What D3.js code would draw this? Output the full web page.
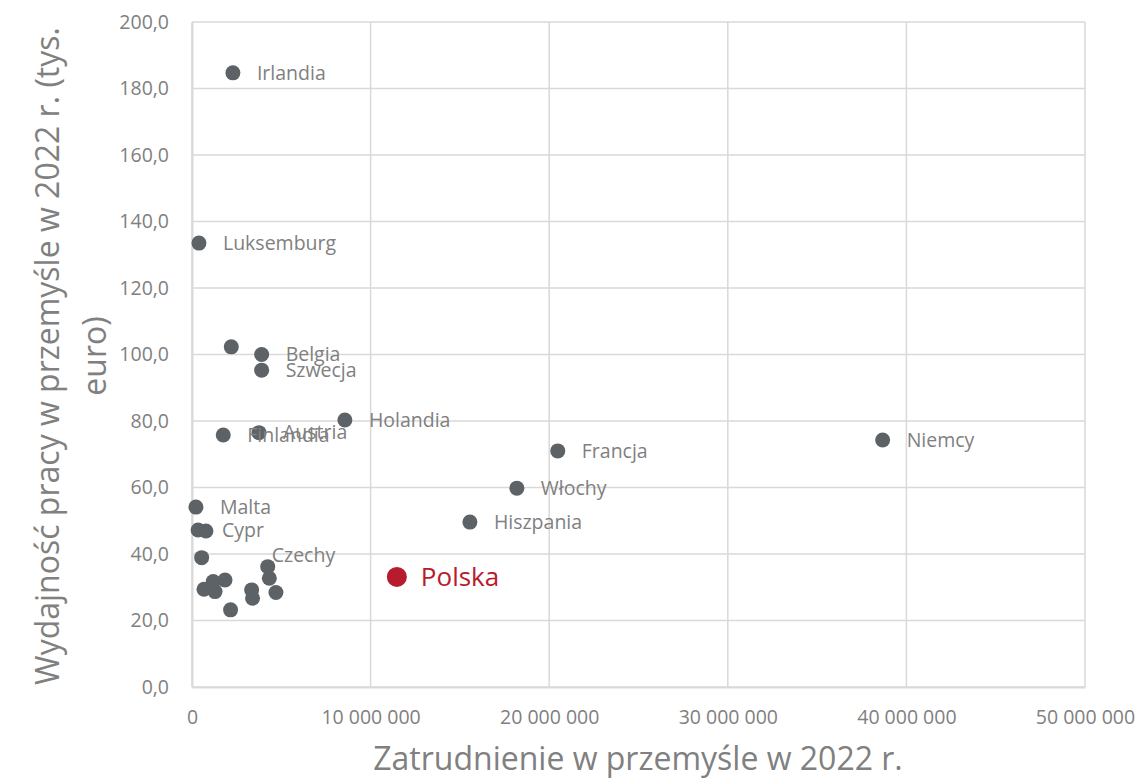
<!DOCTYPE html>
<html>
<head>
<meta charset="utf-8">
<script src="https://cdn.jsdelivr.net/npm/d3@7"></script>
<style>
  body { margin: 0; background: #fff; }
  text { font-family: "Open Sans", "Noto Sans", sans-serif; }
</style>
</head>
<body>
<svg id="chart"></svg>
<script>
// data (employment in persons, productivity in thousand euro)
// empty name = point without a label
const names = ["Irlandia", "Luksemburg", "", "Belgia", "Szwecja", "Holandia", "Austria", "Finlandia",
  "Niemcy", "Francja", "Włochy", "Hiszpania", "Malta", "Cypr", "", "", "", "", "", "",
  "", "", "", "", "", "Czechy", "Polska"];
const employment = [2290000, 390000, 2200000, 3900000, 3900000, 8560000, 3750000, 1750000,
  38670000, 20480000, 18190000, 15560000, 220000, 340000, 780000, 540000, 670000, 1190000, 1290000, 1850000,
  2160000, 3340000, 3390000, 4330000, 4700000, 4240000, 11470000];
const productivity = [184.7, 133.5, 102.3, 100.0, 95.3, 80.3, 76.5, 75.8,
  74.3, 71.0, 59.8, 49.6, 54.1, 47.2, 46.9, 38.9, 29.4, 31.7, 28.7, 32.2,
  23.2, 29.2, 26.7, 32.7, 28.4, 36.2, 33.1];

const xTicks = [0, 10000000, 20000000, 30000000, 40000000, 50000000];
const yTicks = [0, 20, 40, 60, 80, 100, 120, 140, 160, 180, 200];
const xTitle = "Zatrudnienie w przemyśle w 2022 r.";
const yTitle = ["Wydajność pracy w przemyśle w 2022 r. (tys.", "euro)"];
const highlight = "Polska";

const W = 1140, H = 780;
const margin = {top: 22, right: 55, bottom: 93, left: 192};
const width = W - margin.left - margin.right,
      height = H - margin.top - margin.bottom;

const svg = d3.select("#chart").attr("width", W).attr("height", H);
const g = svg.append("g").attr("transform", "translate(" + margin.left + "," + margin.top + ")");

const x = d3.scaleLinear().domain([0, 50000000]).range([0, width]);
const y = d3.scaleLinear().domain([0, 200]).range([height, 0]);

const fmtX = v => d3.format(",")(v).replace(/,/g, " ");
const fmtY = v => d3.format(".1f")(v).replace(".", ",");

// grid
g.append("g").selectAll("line").data(yTicks).enter().append("line")
  .attr("x1", 0).attr("x2", width)
  .attr("y1", d => y(d)).attr("y2", d => y(d))
  .attr("stroke", "#d9d9d9").attr("stroke-width", 1.5);
g.append("g").selectAll("line").data(xTicks).enter().append("line")
  .attr("y1", 0).attr("y2", height)
  .attr("x1", d => x(d)).attr("x2", d => x(d))
  .attr("stroke", "#d9d9d9").attr("stroke-width", 1.5);

// axes
const xAxis = g.append("g").attr("transform", "translate(0," + height + ")")
  .call(d3.axisBottom(x).tickValues(xTicks).tickFormat(fmtX).tickSize(0).tickPadding(23));
const yAxis = g.append("g")
  .call(d3.axisLeft(y).tickValues(yTicks).tickFormat(fmtY).tickSize(0).tickPadding(23));
[xAxis, yAxis].forEach(a => {
  a.select(".domain").attr("stroke", "#d9d9d9").attr("stroke-width", 2);
  a.selectAll("text").attr("fill", "#808080").style("font-size", "19.5px")
    .style("font-family", "'Open Sans', sans-serif");
});

// axis titles
svg.append("text")
  .attr("x", 638).attr("y", 770)
  .attr("text-anchor", "middle").attr("fill", "#808080")
  .style("font-size", "32px").text(xTitle);
const yt = svg.append("text")
  .attr("transform", "translate(59,356) rotate(-90)")
  .attr("text-anchor", "middle").attr("fill", "#808080").style("font-size", "32px");
yt.selectAll("tspan").data(yTitle).enter().append("tspan")
  .attr("x", 0).attr("dy", (d, i) => i === 0 ? 0 : 47).text(d => d);

// points
const pts = employment.map((e, i) => ({e: e, p: productivity[i], name: names[i]}));
const labelShift = {"Czechy": {dx: 4, dy: -11}};

g.append("g").selectAll("circle").data(pts).enter().append("circle")
  .attr("cx", d => x(d.e)).attr("cy", d => y(d.p))
  .attr("r", d => d.name === highlight ? 10 : 7.5)
  .attr("fill", d => d.name === highlight ? "#b71c2e" : "#5d6266");

g.append("g").selectAll("text").data(pts.filter(d => d.name)).enter().append("text")
  .attr("x", d => x(d.e) + (labelShift[d.name] ? labelShift[d.name].dx : 24))
  .attr("y", d => y(d.p) + (labelShift[d.name] ? labelShift[d.name].dy : 0))
  .attr("dy", "0.35em")
  .attr("fill", d => d.name === highlight ? "#b71c2e" : "#808080")
  .style("font-size", d => d.name === highlight ? "26px" : "19.5px")
  .text(d => d.name);
</script>
</body>
</html>
